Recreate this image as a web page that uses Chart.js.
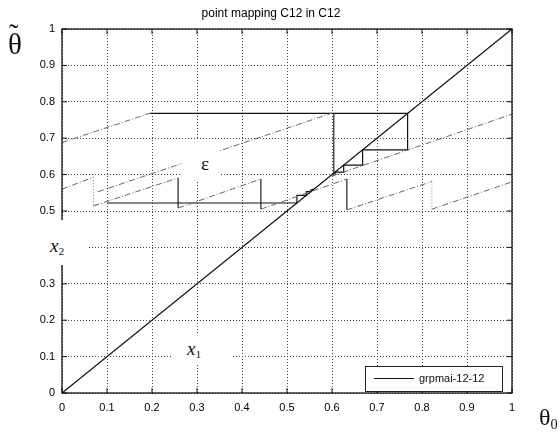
<!DOCTYPE html>
<html>
<head>
<meta charset="utf-8">
<script src="https://cdn.jsdelivr.net/npm/chart.js@4/dist/chart.umd.min.js"></script>
<style>
  body { margin: 0; background: #fff; }
  #wrap { position: relative; width: 559px; height: 435px; overflow: hidden; }
  canvas { position: absolute; left: 0; top: 0; }
  .patch { position: absolute; background: #fff; }
  .lbl { position: absolute; font-family: 'Liberation Serif', 'DejaVu Serif', serif; color: #111; white-space: nowrap; line-height: 1; }
  .it { font-style: italic; }
  sub { font-size: 60%; vertical-align: -0.25em; font-style: normal; }
  #title { position: absolute; left: 171px; width: 200px; top: 6px; text-align: center; font: 12px 'Liberation Sans', Arial, sans-serif; color: #000; }
  #legend { position: absolute; left: 365px; top: 366px; width: 136px; height: 24px; border: 1px solid #222; background: #fff; font: 11px 'Liberation Sans', Arial, sans-serif; color: #111; }
  #legend .ln { position: absolute; left: 8px; top: 11px; width: 40px; border-top: 1px solid #111; }
  #legend .tx { position: absolute; left: 53px; top: 5px; }
</style>
</head>
<body>
<div id="wrap">
  <canvas id="mainChart" width="559" height="435"></canvas>
  <div id="title">point mapping C12 in C12</div>
  <div class="patch" style="left:0;top:220px;width:87px;height:45px"></div>
  <div class="patch" style="left:182px;top:139px;width:38px;height:42px"></div>
  <div class="patch" style="left:172px;top:333px;width:60px;height:32px"></div>
  <div class="lbl" style="left:8px;top:30px;font-size:29px">θ</div>
  <div class="lbl" style="left:9px;top:20px;font-size:28px">˜</div>
  <div class="lbl" style="left:539px;top:405px;font-size:24px">θ<sub>0</sub></div>
  <div class="lbl it" style="left:50px;top:236px;font-size:19px">x<sub>2</sub></div>
  <div class="lbl it" style="left:187px;top:339px;font-size:19px">x<sub>1</sub></div>
  <div class="lbl" style="left:201px;top:154px;font-size:19px">ε</div>
  <div id="legend"><div class="ln"></div><div class="tx">grpmai-12-12</div></div>
</div>
<script>
const ticks = [0, 0.1, 0.2, 0.3, 0.4, 0.5, 0.6, 0.7, 0.8, 0.9, 1];
const tickLabels = ['0', '0.1', '0.2', '0.3', '0.4', '0.5', '0.6', '0.7', '0.8', '0.9', '1'];

// identity line
const diagX = [0, 1];
const diagY = [0, 1];

// point mapping branches (null = break)
const mapX = [0, 0.196, null, 0.08, 0.6, null, 0.6, 1,
              null, 0, 0.07, null, 0.07, 0.258, null, 0.258, 0.442, null, 0.442, 0.633, null, 0.633, 0.822, null, 0.822, 1];
const mapY = [0.688, 0.769, null, 0.553, 0.769, null, 0.596, 0.766,
              null, 0.56, 0.593, null, 0.514, 0.591, null, 0.508, 0.588, null, 0.505, 0.588, null, 0.503, 0.581, null, 0.505, 0.58];

// jumps of the mapping
const jumpX = [0.258, 0.258, null, 0.442, 0.442, null, 0.633, 0.633, null, 0.604, 0.604];
const jumpY = [0.591, 0.508, null, 0.588, 0.505, null, 0.588, 0.503, null, 0.769, 0.598];
const jumpFaintX = [0.07, 0.07, null, 0.822, 0.822];
const jumpFaintY = [0.593, 0.514, null, 0.581, 0.505];

// iterations
const iterAX = [0.196, 0.768, 0.768, 0.668, 0.668, 0.626, 0.626, 0.607, 0.607];
const iterAY = [0.768, 0.768, 0.668, 0.668, 0.626, 0.626, 0.607, 0.607, 0.6];
const iterBX = [0.1, 0.522, 0.522, 0.543, 0.543, 0.553, 0.553, 0.558, 0.558];
const iterBY = [0.522, 0.522, 0.543, 0.543, 0.553, 0.553, 0.558, 0.558, 0.562];

function pts(xs, ys) {
    return xs.map((x, i) => x === null ? {x: 0, y: null} : {x: x, y: ys[i]});
}

const frame = {
    id: 'frame',
    afterDraw(chart) {
        const {ctx, chartArea: a, scales} = chart;
        ctx.save();
        ctx.strokeStyle = '#111';
        ctx.lineWidth = 1.3;
        ctx.strokeRect(a.left, a.top, a.right - a.left, a.bottom - a.top);
        ctx.lineWidth = 1;
        ticks.forEach(t => {
            const px = scales.x.getPixelForValue(t);
            const py = scales.y.getPixelForValue(t);
            ctx.beginPath();
            ctx.moveTo(px, a.bottom); ctx.lineTo(px, a.bottom - 5);
            ctx.moveTo(px, a.top); ctx.lineTo(px, a.top + 5);
            ctx.moveTo(a.left, py); ctx.lineTo(a.left + 5, py);
            ctx.moveTo(a.right, py); ctx.lineTo(a.right - 5, py);
            ctx.stroke();
        });
        ctx.restore();
    }
};

const axisOpts = (fit) => ({
    type: 'linear',
    min: 0,
    max: 1,
    afterFit: fit,
    afterBuildTicks: s => { s.ticks = ticks.map(v => ({value: v})); },
    grid: { color: '#444', lineWidth: 1, drawTicks: false },
    border: { display: false, dash: [1, 2] },
    ticks: {
        color: '#000',
        font: { family: "'Liberation Sans', Arial, sans-serif", size: 11 },
        callback: (v) => tickLabels[ticks.indexOf(Math.round(v * 10) / 10)]
    }
});

const xOpts = axisOpts(s => { s.height = 42; });
xOpts.ticks.padding = 8;
const yOpts = axisOpts(s => { s.width = 62; });
yOpts.ticks.padding = 7;

const ctx = document.getElementById('mainChart').getContext('2d');
new Chart(ctx, {
    type: 'scatter',
    data: {
        datasets: [
            { label: 'map', data: pts(mapX, mapY), showLine: true, borderColor: '#666', borderWidth: 1, borderDash: [6, 2, 1, 2] },
            { label: 'jumps faint', data: pts(jumpFaintX, jumpFaintY), showLine: true, borderColor: '#888', borderWidth: 1, borderDash: [1, 2] },
            { label: 'jumps', data: pts(jumpX, jumpY), showLine: true, borderColor: '#222', borderWidth: 1.2 },
            { label: 'iterA', data: pts(iterAX, iterAY), showLine: true, borderColor: '#111', borderWidth: 1.2 },
            { label: 'iterB', data: pts(iterBX, iterBY), showLine: true, borderColor: '#111', borderWidth: 1.2 },
            { label: 'grpmai-12-12', data: pts(diagX, diagY), showLine: true, borderColor: '#111', borderWidth: 1.3 }
        ]
    },
    options: {
        responsive: false,
        animation: false,
        spanGaps: false,
        elements: { point: { radius: 0 }, line: { tension: 0 } },
        layout: { padding: { top: 29, right: 47, left: 0, bottom: 0 } },
        scales: { x: xOpts, y: yOpts },
        plugins: { legend: { display: false }, title: { display: false }, tooltip: { enabled: false } }
    },
    plugins: [frame]
});
</script>
</body>
</html>
